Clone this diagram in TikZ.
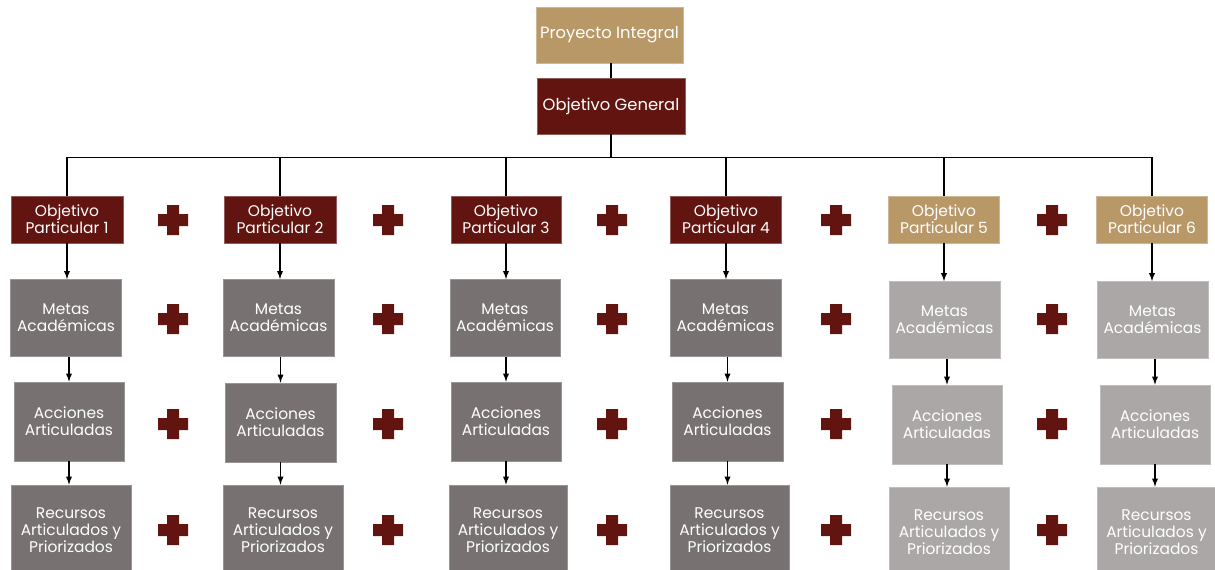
\documentclass[tikz,border=0pt]{standalone}
\usepackage{fontspec}
\setmainfont{Poppins}
\definecolor{tan}{HTML}{B99868}
\definecolor{vino}{HTML}{621510}
\definecolor{gris}{HTML}{777171}
\definecolor{grisclaro}{HTML}{ABA7A7}

\tikzset{
  caja/.style={rectangle, text=white, align=center, inner sep=1pt,
    font=\fontsize{8.8}{9.8}\selectfont},
  cajatan/.style={caja, fill=tan, draw=tan!70!white},
  cajavino/.style={caja, fill=vino, draw=vino!70!white},
  cajagris/.style={caja, fill=gris, draw=gris!75!white},
  cajaclara/.style={caja, fill=grisclaro, draw=grisclaro!75!white},
  liga/.style={line width=0.6pt, -latex},
}

\begin{document}
\begin{tikzpicture}[x=0.02cm, y=-0.02cm]%
        \useasboundingbox (0,0) rectangle (1215,569);
        % cabecera
        \node[cajatan, minimum width=2.94cm, minimum height=1.12cm] (pi) at (609.5,35) {\fontsize{9.3}{10}\selectfont Proyecto Integral};
        \node[cajavino, minimum width=2.96cm, minimum height=1.12cm] (og) at (611,106) {\fontsize{9.3}{10}\selectfont Objetivo General};
        \draw[line width=0.6pt] (og.north |- pi.south) -- (og.north);

        % objetivos particulares
        \node[cajavino, minimum width=2.24cm, minimum height=0.94cm] (op1) at (67,219.5) {Objetivo\\Particular 1};
        \node[cajavino, minimum width=2.24cm, minimum height=0.94cm] (op2) at (280,219.5) {Objetivo\\Particular 2};
        \node[cajavino, minimum width=2.20cm, minimum height=0.94cm] (op3) at (506,219.5) {Objetivo\\Particular 3};
        \node[cajavino, minimum width=2.22cm, minimum height=0.94cm] (op4) at (726,219.5) {Objetivo\\Particular 4};
        \node[cajatan, minimum width=2.22cm, minimum height=0.94cm] (op5) at (944,219.5) {Objetivo\\Particular 5};
        \node[cajatan, minimum width=2.22cm, minimum height=0.94cm] (op6) at (1152,219.5) {Objetivo\\Particular 6};

        % metas
        \node[cajagris, minimum width=2.22cm, minimum height=1.54cm] (m1) at (66,318) {Metas\\Académicas};
        \node[cajagris, minimum width=2.22cm, minimum height=1.54cm] (m2) at (278.5,318) {Metas\\Académicas};
        \node[cajagris, minimum width=2.20cm, minimum height=1.54cm] (m3) at (505,318) {Metas\\Académicas};
        \node[cajagris, minimum width=2.22cm, minimum height=1.54cm] (m4) at (725.5,318) {Metas\\Académicas};
        \node[cajaclara, minimum width=2.22cm, minimum height=1.54cm] (m5) at (944.5,320) {Metas\\Académicas};
        \node[cajaclara, minimum width=2.22cm, minimum height=1.54cm] (m6) at (1152.5,320) {Metas\\Académicas};

        % acciones
        \node[cajagris, minimum width=2.20cm, minimum height=1.58cm] (a1) at (69,421.5) {Acciones\\Articuladas};
        \node[cajagris, minimum width=2.22cm, minimum height=1.58cm] (a2) at (280.5,422.5) {Acciones\\Articuladas};
        \node[cajagris, minimum width=2.20cm, minimum height=1.58cm] (a3) at (506,421.5) {Acciones\\Articuladas};
        \node[cajagris, minimum width=2.22cm, minimum height=1.58cm] (a4) at (727.5,421.5) {Acciones\\Articuladas};
        \node[cajaclara, minimum width=2.20cm, minimum height=1.58cm] (a5) at (947,424.5) {Acciones\\Articuladas};
        \node[cajaclara, minimum width=2.20cm, minimum height=1.58cm] (a6) at (1155,424.5) {Acciones\\Articuladas};

        % recursos
        \node[cajagris, minimum width=2.40cm, minimum height=1.80cm] (r1) at (71,530) {Recursos\\Articulados y\\Priorizados};
        \node[cajagris, minimum width=2.40cm, minimum height=1.80cm] (r2) at (283,530) {Recursos\\Articulados y\\Priorizados};
        \node[cajagris, minimum width=2.36cm, minimum height=1.80cm] (r3) at (508,530) {Recursos\\Articulados y\\Priorizados};
        \node[cajagris, minimum width=2.38cm, minimum height=1.80cm] (r4) at (729.5,530) {Recursos\\Articulados y\\Priorizados};
        \node[cajaclara, minimum width=2.40cm, minimum height=1.80cm] (r5) at (949,532) {Recursos\\Articulados y\\Priorizados};
        \node[cajaclara, minimum width=2.38cm, minimum height=1.80cm] (r6) at (1156.5,532) {Recursos\\Articulados y\\Priorizados};

        % bus del objetivo general
        \draw[line width=0.6pt] (og.south) -- ++(0,23) -| (op1.north);
        \draw[line width=0.6pt] (og.south) -- ++(0,23) -| (op2.north);
        \draw[line width=0.6pt] (og.south) -- ++(0,23) -| (op3.north);
        \draw[line width=0.6pt] (og.south) -- ++(0,23) -| (op4.north);
        \draw[line width=0.6pt] (og.south) -- ++(0,23) -| (op5.north);
        \draw[line width=0.6pt] (og.south) -- ++(0,23) -| (op6.north);

        % columnas
        \draw[liga] (op1.south) -- (op1.south |- m1.north);
        \draw[liga] (op2.south) -- (op2.south |- m2.north);
        \draw[liga] (op3.south) -- (op3.south |- m3.north);
        \draw[liga] (op4.south) -- (op4.south |- m4.north);
        \draw[liga] (op5.south) -- (op5.south |- m5.north);
        \draw[liga] (op6.south) -- (op6.south |- m6.north);

        \draw[liga] (a1.north |- m1.south) -- (a1.north);
        \draw[liga] (a2.north |- m2.south) -- (a2.north);
        \draw[liga] (a3.north |- m3.south) -- (a3.north);
        \draw[liga] (a4.north |- m4.south) -- (a4.north);
        \draw[liga] (a5.north |- m5.south) -- (a5.north);
        \draw[liga] (a6.north |- m6.south) -- (a6.north);

        \draw[liga] (a1.south) -- (a1.south |- r1.north);
        \draw[liga] (a2.south) -- (a2.south |- r2.north);
        \draw[liga] (a3.south) -- (a3.south |- r3.north);
        \draw[liga] (a4.south) -- (a4.south |- r4.north);
        \draw[liga] (a5.south) -- (a5.south |- r5.north);
        \draw[liga] (a6.south) -- (a6.south |- r6.north);

        % signos de suma
        \foreach \px in {173,388,612,836,1052}
          \foreach \py in {220,319,424,530}
            \fill[vino] (\px-15,\py-6) -- (\px-6,\py-6) -- (\px-6,\py-15) -- (\px+6,\py-15)
              -- (\px+6,\py-6) -- (\px+15,\py-6) -- (\px+15,\py+6) -- (\px+6,\py+6)
              -- (\px+6,\py+15) -- (\px-6,\py+15) -- (\px-6,\py+6) -- (\px-15,\py+6) -- cycle;
    \end{tikzpicture}
\end{document}
